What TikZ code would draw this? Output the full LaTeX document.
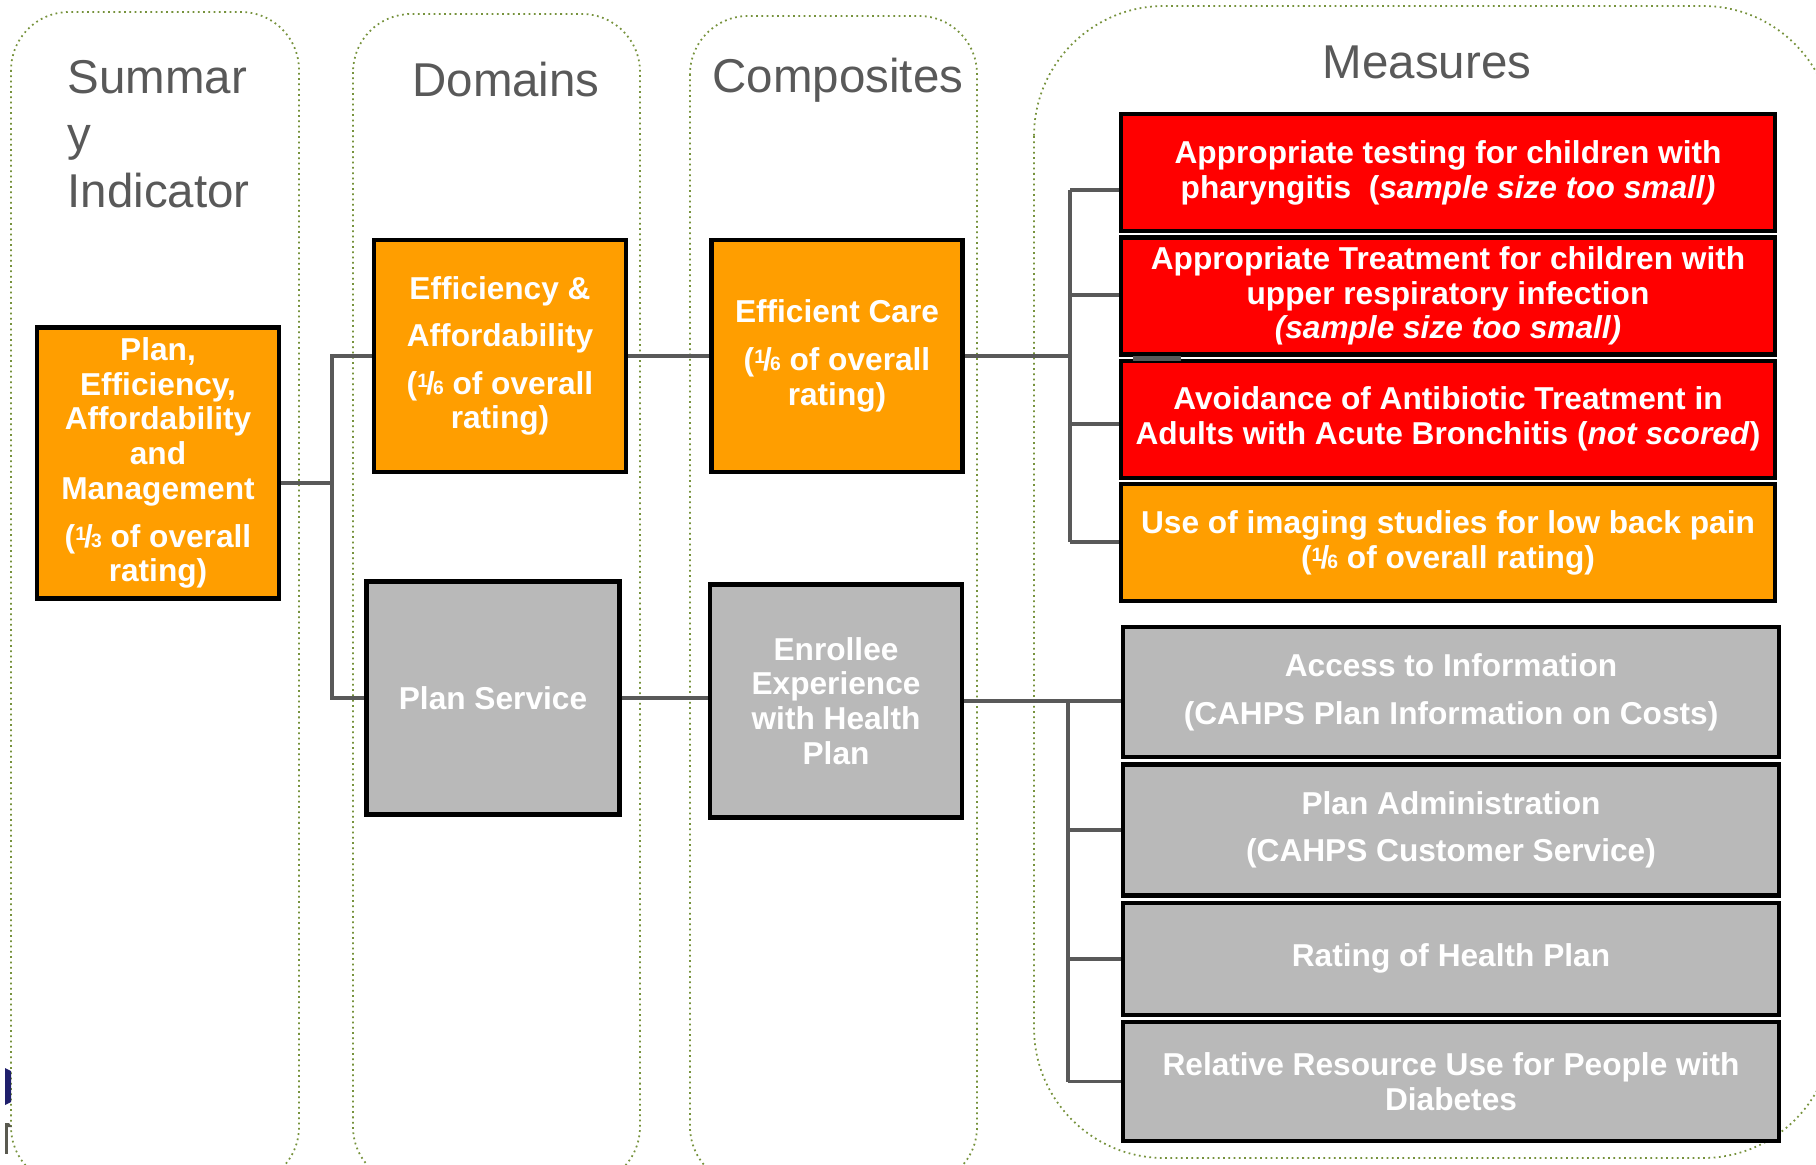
\documentclass[tikz,border=0pt]{standalone}
\usepackage{fontspec}
\setmainfont{Liberation Sans}
\usepackage{tikz}
\usetikzlibrary{positioning}
\definecolor{orng}{HTML}{FF9E00}
\definecolor{redfill}{HTML}{FF0000}
\definecolor{greyfill}{HTML}{B9B9B9}
\definecolor{wirecol}{HTML}{595959}
\definecolor{headgrey}{HTML}{595959}
\definecolor{laneline}{HTML}{76923C}
\definecolor{navymark}{HTML}{1F1F6B}
\definecolor{markgrey}{HTML}{5A5A50}
% small built-up fraction, as in the slide
\newcommand{\frc}[2]{\raisebox{.42ex}{\fontsize{5.5}{5.5}\selectfont#1}\kern-.06em/\kern-.06em{\fontsize{5.5}{5.5}\selectfont#2}}

\begin{document}
\begin{tikzpicture}[x=0.01cm, y=-0.01cm,
     lane/.style={draw=laneline, densely dotted, line width=0.5pt, rounded corners=0.58cm},
     head/.style={text=headgrey, font=\fontsize{13.5}{16.1}\selectfont, inner sep=0pt},
     boxtext/.style={rectangle, draw=black, line width=1.2pt, text=white, align=center, inner sep=0pt, font=\fontsize{9}{9.9}\selectfont\bfseries},
     orangebox/.style={boxtext, fill=orng},
     redbox/.style={boxtext, fill=redfill},
     greybox/.style={boxtext, fill=greyfill},
     measure/.style={minimum width=6.54cm, minimum height=1.17cm},
     wire/.style={draw=wirecol, line width=1.1pt}
 ]
 \useasboundingbox (0,0) rectangle (1816,1164);
 \clip (0,0) rectangle (1816,1164);

 % the four columns
 \draw[lane] (11,12) rectangle (299,1185);
 \draw[lane] (353,14) rectangle (640,1185);
 \draw[lane] (690,16) rectangle (977,1185);
 \draw[lane, rounded corners=1.3cm] (1034,6) rectangle (1833,1158);

 \node[head, anchor=north west, align=left] (hsum) at (67,60) {Summar\\y\\Indicator};
 \node[head, anchor=base] (hdom) at (506,97) {Domains};
 \node[head, anchor=base] (hcomp) at (838,93) {Composites};
 \node[head, anchor=base] (hmeas) at (1427,79) {Measures};

 % summary indicator, domains, composites
 \node[orangebox, minimum width=2.42cm, minimum height=2.71cm] (sumind) at (158,463)
     {Plan,\\Efficiency,\\Affordability\\and\\Management\\[3.6pt](\frc13 of overall\\rating)};
 \node[orangebox, minimum width=2.52cm, minimum height=2.32cm] (effaff) at (500,356)
     {Efficiency \&\\[3.6pt]Affordability\\[3.6pt](\frc16 of overall\\rating)};
 \node[greybox, minimum width=2.53cm, minimum height=2.33cm] (plansrv) at (493,698) {Plan Service};
 \node[orangebox, minimum width=2.51cm, minimum height=2.32cm] (effcare) at (837,356)
     {Efficient Care\\[3.6pt](\frc16 of overall\\rating)};
 \node[greybox, minimum width=2.52cm, minimum height=2.33cm] (enrexp) at (836,701)
     {Enrollee\\Experience\\with Health\\Plan};

 % measures, upper group
 \node[redbox, measure, anchor=north] (m1) at (1448,112)
     {Appropriate testing for children with\\pharyngitis\ \ (\textit{sample size too small)}};
 \node[redbox, measure, below=0.02cm of m1] (m2)
     {Appropriate Treatment for children with\\upper respiratory infection\\\textit{(sample size too small)}};
 \node[redbox, measure, below=0.02cm of m2] (m3)
     {Avoidance of Antibiotic Treatment in\\Adults with Acute Bronchitis (\textit{not scored})};
 \node[orangebox, measure, below=0.02cm of m3] (m4)
     {Use of imaging studies for low back pain\\(\frc16 of overall rating)};

 % measures, lower group
 \node[greybox, measure, minimum width=6.55cm, minimum height=1.30cm, anchor=north] (g1) at (1451,625)
     {Access to Information\\[3.6pt](CAHPS Plan Information on Costs)};
 \node[greybox, measure, minimum width=6.55cm, minimum height=1.31cm, below=0.03cm of g1] (g2)
     {Plan Administration\\[3.6pt](CAHPS Customer Service)};
 \node[greybox, measure, minimum width=6.55cm, minimum height=1.12cm, below=0.03cm of g2] (g3)
     {Rating of Health Plan};
 \node[greybox, measure, minimum width=6.55cm, minimum height=1.19cm, below=0.03cm of g3] (g4)
     {Relative Resource Use for People with\\Diabetes};

 % connectors
 \coordinate (sbus) at (332,483);
 \draw[wire] (sumind.east |- sbus) -- (sbus);
 \draw[wire] (effaff.west) -| (sbus);
 \draw[wire] (plansrv.west) -| (sbus);
 \draw[wire] (effaff.east) -- (effcare.west);
 \draw[wire] (plansrv.east) -- (plansrv.east -| enrexp.west);

 \coordinate (tbus) at (1070,0);
 \draw[wire] (effcare.east) -- (effcare.east -| tbus);
 \draw[wire] (tbus |- 0,190) -- (tbus |- 0,542);
 \foreach \x/\y in {1/190, 2/295, 3/424, 4/542} {
     \draw[wire] (tbus |- 0,\y) -- (m\x.west |- 0,\y);
 }
 \draw[wire, line width=1.4pt] ([xshift=0.14cm]m3.north west) -- ++(48,0);

 \coordinate (bbus) at (1068,0);
 \draw[wire] (enrexp.east) -- (enrexp.east -| g1.west);
 \draw[wire] (bbus |- enrexp.east) -- (bbus |- g4.west);
 \foreach \x in {2,3,4} {
     \draw[wire] (bbus |- g\x.west) -- (g\x.west);
 }

 % stray marks at the lower left edge
 \fill[navymark] (5,1068) -- (11,1071) -- (11,1102) -- (5,1105) -- cycle;
 \fill[markgrey] (5,1123) rectangle (8,1154);
 \fill[markgrey] (5,1123) -- (9,1123) -- (12,1127) -- (8,1127) -- cycle;
\end{tikzpicture}
\end{document}
